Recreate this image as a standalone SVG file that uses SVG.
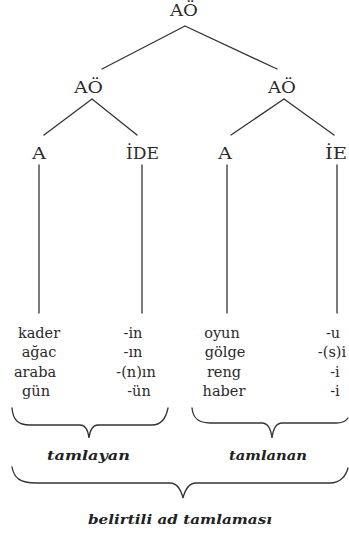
<svg xmlns="http://www.w3.org/2000/svg" width="349" height="533" viewBox="0 0 349 533">
<style>
.t{font-family:"DejaVu Serif","Liberation Serif",serif;fill:#2a2a2a;}
.n{font-size:16px;}
.w{font-size:14.5px;text-anchor:middle;}
.b{font-family:"DejaVu Serif","Liberation Serif",serif;font-weight:bold;font-style:italic;font-size:13.5px;fill:#222;}
.ln{stroke:#333;stroke-width:1.3;fill:none;stroke-linecap:round;}
</style>
<rect width="349" height="533" fill="#fff"/>
<g id="connectors">
<path class="ln" d="M185,26 L102,69 M185,26 L277,69"/>
<path class="ln" d="M92,99 L44,135 M92,99 L137,135"/>
<path class="ln" d="M284,99 L231,135 M284,99 L334,135"/>
<path class="ln" d="M39,165 V313 M142,165 V313 M227,165 V313 M337,165 V313"/>
</g>
<g id="n-root"><text class="t n" x="170" y="16" textLength="28" lengthAdjust="spacingAndGlyphs">AÖ</text></g>
<g id="n-ao-left"><text class="t n" x="74" y="93" textLength="29" lengthAdjust="spacingAndGlyphs">AÖ</text></g>
<g id="n-ao-right"><text class="t n" x="268" y="93" textLength="28" lengthAdjust="spacingAndGlyphs">AÖ</text></g>
<g id="n-a-left"><text class="t n" x="32" y="159" textLength="14" lengthAdjust="spacingAndGlyphs">A</text></g>
<g id="n-ide"><text class="t n" x="126" y="159" textLength="33" lengthAdjust="spacingAndGlyphs">İDE</text></g>
<g id="n-a-right"><text class="t n" x="218" y="159" textLength="14" lengthAdjust="spacingAndGlyphs">A</text></g>
<g id="n-ie"><text class="t n" x="325" y="159" textLength="22" lengthAdjust="spacingAndGlyphs">İE</text></g>
<g id="words-tamlayan">
<text class="t w" x="39" y="338">kader</text>
<text class="t w" x="39" y="357">ağac</text>
<text class="t w" x="35" y="377">araba</text>
<text class="t w" x="36" y="396">gün</text>
</g>
<g id="suffix-ide">
<text class="t w" x="133" y="338">-in</text>
<text class="t w" x="133" y="357">-ın</text>
<text class="t w" x="136" y="377">-(n)ın</text>
<text class="t w" x="139" y="396">-ün</text>
</g>
<g id="words-tamlanan">
<text class="t w" x="222" y="338">oyun</text>
<text class="t w" x="225" y="357">gölge</text>
<text class="t w" x="224" y="377">reng</text>
<text class="t w" x="224" y="396">haber</text>
</g>
<g id="suffix-ie">
<text class="t w" x="333" y="338">-u</text>
<text class="t w" x="332" y="357">-(s)i</text>
<text class="t w" x="335" y="377">-i</text>
<text class="t w" x="335" y="396">-i</text>
</g>
<g id="braces">
<path class="ln" d="M12,408 C13,420 18,425 30,425 L80,425 C86,425 88,430 89,438 C90,430 92,425 98,425 L152,425 C162,425 166,418 168,408"/>
<path class="ln" d="M192,408 C193,418 198,423 210,423 L262,423 C268,423 271,430 272,438 C273,430 276,423 282,423 L336,423 C343,423 346,421 348,418"/>
<path class="ln" d="M12,467 C14,478 20,483 36,483 L170,483 C178,483 181,490 183,498 C185,490 188,483 196,483 L330,483 C340,483 346,476 348,468"/>
</g>
<g id="n-tamlayan"><text class="b" x="47" y="460" textLength="83" lengthAdjust="spacingAndGlyphs">tamlayan</text></g>
<g id="n-tamlanan"><text class="b" x="229" y="460" textLength="78" lengthAdjust="spacingAndGlyphs">tamlanan</text></g>
<g id="n-belirtili"><text class="b" x="88" y="524" textLength="184" lengthAdjust="spacingAndGlyphs">belirtili ad tamlaması</text></g>
</svg>
